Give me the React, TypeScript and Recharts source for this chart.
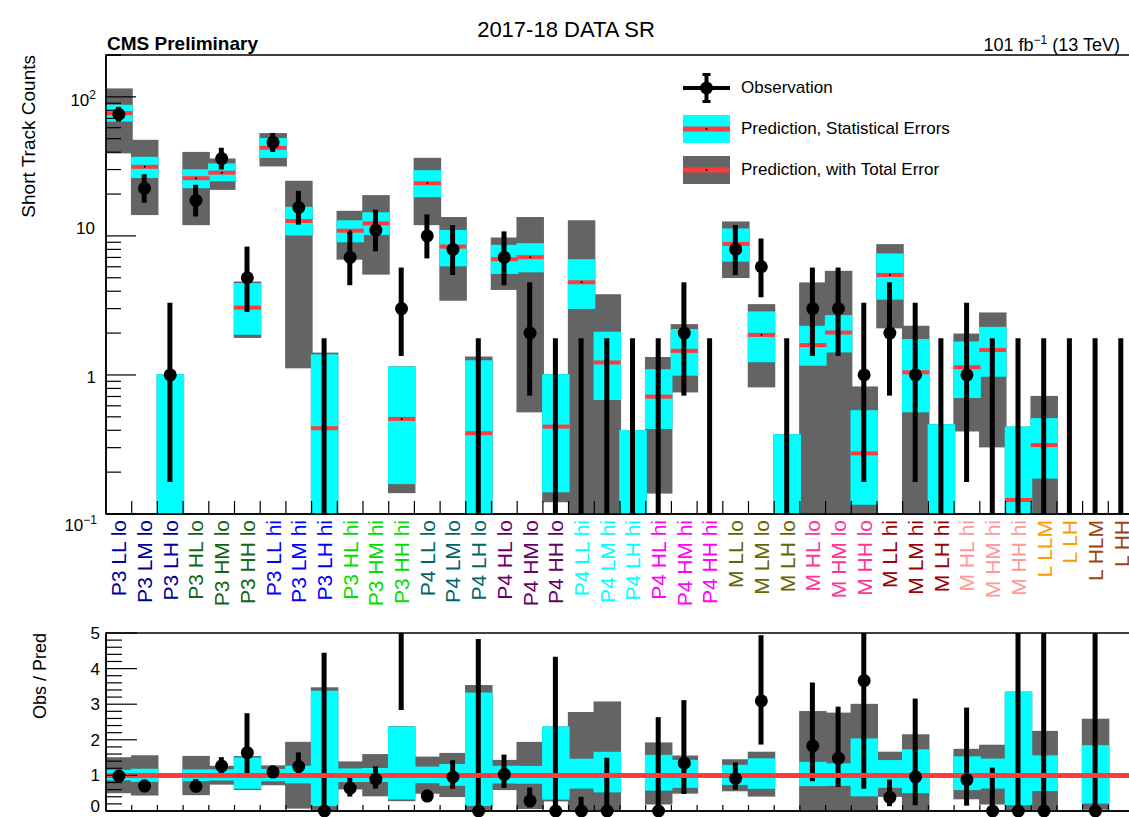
import React from "react";
import {
  ComposedChart,
  Bar,
  Line,
  XAxis,
  YAxis,
  ReferenceArea,
  ReferenceLine,
  Legend,
} from "recharts";

const FONT = '"Liberation Sans", Arial, Helvetica, sans-serif';
const CYAN = "#00ffff";
const GRAY = "#646464";
const RED = "#ff3b3b";

const regions = [
  "P3 LL lo", "P3 LM lo", "P3 LH lo", "P3 HL lo", "P3 HM lo", "P3 HH lo",
  "P3 LL hi", "P3 LM hi", "P3 LH hi", "P3 HL hi", "P3 HM hi", "P3 HH hi",
  "P4 LL lo", "P4 LM lo", "P4 LH lo", "P4 HL lo", "P4 HM lo", "P4 HH lo",
  "P4 LL hi", "P4 LM hi", "P4 LH hi", "P4 HL hi", "P4 HM hi", "P4 HH hi",
  "M LL lo", "M LM lo", "M LH lo", "M HL lo", "M HM lo", "M HH lo",
  "M LL hi", "M LM hi", "M LH hi", "M HL hi", "M HM hi", "M HH hi",
  "L LLM", "L LH", "L HLM", "L HH",
];

// observed short-track counts and their 68% Poisson intervals
const observed = [
  75, 22, 1, 18, 36, 5, 47, 16, 0, 7, 11, 3,
  10, 8, 0, 7, 2, 0, 0, 0, 0, 0, 2, 0,
  8, 6, 0, 3, 3, 1, 2, 1, 0, 1, 0, 0,
  0, 0, 0, 0,
];
const obsLow = [
  66.37, 17.34, 0.17, 13.79, 30.03, 2.84, 40.17, 12.04, 0, 4.42, 7.74, 1.37,
  6.89, 5.23, 0, 4.42, 0.71, 0, 0, 0, 0, 0, 0.71, 0,
  5.23, 3.62, 0, 1.37, 1.37, 0.17, 0.71, 0.17, 0, 0.17, 0, 0,
  0, 0, 0, 0,
];
const obsHigh = [
  84.69, 27.76, 3.3, 23.32, 43.05, 8.38, 54.9, 21.08, 1.84, 10.78, 15.42, 5.92,
  14.27, 11.96, 1.84, 10.78, 4.64, 1.84, 1.84, 1.84, 1.84, 1.84, 4.64, 1.84,
  11.96, 9.58, 1.84, 5.92, 5.92, 3.3, 4.64, 3.3, 1.84, 3.3, 1.84, 1.84,
  1.84, 1.84, 1.84, 1.84,
];

// background prediction, statistical band and total-error band
const predicted = [
  76.3, 31.4, 0, 26.0, 28.5, 3.05, 43.0, 12.8, 0.414, 10.9, 12.3, 0.483,
  23.9, 8.38, 0.381, 6.8, 7.03, 0.425, 4.64, 1.23, 0, 0.698, 1.49, 0,
  8.76, 1.94, 0, 1.64, 2.02, 0.273, 5.24, 1.045, 0, 1.136, 1.51, 0.126,
  0.313, 0, 0.035, 0,
];
const statLow = [
  67.2, 26.4, 0, 22.3, 25.0, 1.97, 36.8, 10.2, 0.066, 9.1, 10.3, 0.166,
  19.2, 6.11, 0.061, 5.39, 5.54, 0.145, 3.02, 0.669, 0, 0.414, 1.0, 0,
  6.61, 1.25, 0, 1.18, 1.47, 0.118, 3.52, 0.545, 0, 0.691, 0.983, 0.023,
  0.182, 0, 0.008, 0,
];
const statHigh = [
  86.6, 36.6, 1.0, 29.8, 32.8, 4.52, 49.9, 16.0, 1.39, 12.8, 14.6, 1.136,
  29.3, 10.9, 1.26, 8.51, 8.76, 1.0, 6.72, 2.02, 0.396, 1.086, 2.11, 0,
  11.17, 2.83, 0.37, 2.23, 2.66, 0.551, 7.38, 1.79, 0.437, 1.72, 2.19, 0.42,
  0.483, 0, 0.064, 0,
];
const totalLow = [
  39.7, 14.3, 0, 12.1, 21.7, 1.87, 32.0, 1.13, 0.02, 6.83, 5.33, 0.143,
  12.1, 3.46, 0.02, 4.14, 0.545, 0.123, 0.02, 0.03, 0, 0.142, 0.758, 0,
  5.04, 0.824, 0, 0.02, 0.02, 0.01, 2.19, 0.02, 0, 0.397, 0.305, 0.005,
  0.01, 0, 0.002, 0,
];
const totalHigh = [
  113.6, 48.5, 1.0, 39.7, 35.6, 4.64, 54.2, 24.6, 1.43, 14.96, 19.4, 1.14,
  36.0, 13.5, 1.34, 9.62, 13.5, 1.0, 12.8, 3.76, 0.396, 1.33, 2.29, 0,
  12.55, 3.19, 0.37, 4.57, 5.54, 0.816, 8.62, 2.23, 0.437, 1.96, 2.78, 0.42,
  0.698, 0, 0.09, 0,
];

// label colour for each group of three regions, then the L-track regions
const groupColors = [
  "#000099", "#116611", "#0000ff", "#00dd00", "#006666", "#660066",
  "#00ffff", "#ff00ff", "#666600", "#ff3399", "#990000", "#ff9999",
];
const longColors = ["#ff9900", "#ff9900", "#994411", "#994411"];
const labelColor = (i: number) =>
  i < 36 ? groupColors[Math.floor(i / 3)] : longColors[i - 36];

const PLOT_LEFT = 106;
const PLOT_RIGHT = 1134;
const BIN_W = (PLOT_RIGHT - PLOT_LEFT) / regions.length;
const CHART_W = 1160;

// log axis can't take zero; anything below 0.1 sits under the frame and is clipped
const LOG_FLOOR = 0.01;
const box = (lo: number, hi: number) => (hi > 0 ? [Math.max(lo, LOG_FLOOR), hi] : null);

const rows = regions.map((name, i) => ({
  name,
  total: box(totalLow[i], totalHigh[i]),
  stat: box(statLow[i], statHigh[i]),
  pred: predicted[i] > 0 ? predicted[i] : null,
  err: [Math.max(obsLow[i], LOG_FLOOR), obsHigh[i]],
  obs: observed[i] > 0 ? observed[i] : null,
}));

const ratioRows = regions.map((name, i) => {
  const p = predicted[i];
  if (!(p > 0)) return { name, total: null, stat: null, err: null, obs: null };
  const r = observed[i] / p;
  return {
    name,
    total: [totalLow[i] / p, totalHigh[i] / p],
    stat: [statLow[i] / p, statHigh[i] / p],
    err: [obsLow[i] / p, obsHigh[i] / p],
    obs: r <= 5 ? r : null,
  };
});

const logTicks: number[] = [];
[0.1, 1, 10, 100].forEach((d) => {
  for (let k = 1; k <= 9; k++) if (d * k <= 200) logTicks.push(+(d * k).toPrecision(3));
});
logTicks.push(200);
const ratioTicks = Array.from({ length: 26 }, (_, i) => i / 5);

const boxShape = (color: string) => (props: any) => {
  const { x, y, width, height } = props;
  if (![x, y, width, height].every((n) => Number.isFinite(n)) || height === 0) return <g />;
  const top = Math.min(y, y + height);
  return (
    <rect x={x} y={top} width={width} height={Math.abs(height)} fill={color} stroke={color} strokeWidth={1.5} />
  );
};

// red marker at the predicted value, across the whole bin
const PredMark = (props: any) => {
  const { x, y, width, payload } = props;
  if (!Number.isFinite(y) || payload?.pred == null) return <g />;
  return (
    <g>
      <line x1={x - 0.5} x2={x + width + 0.5} y1={y} y2={y} stroke={RED} strokeWidth={4} />
      <circle cx={x + width / 2} cy={y} r={1} fill="#000" />
    </g>
  );
};

const RegionTick = (props: any) => {
  const { x, y, index, payload } = props;
  const left = x - BIN_W / 2;
  return (
    <g>
      {index > 0 && <line x1={left} x2={left} y1={y} y2={y - 13} stroke="#000" strokeWidth={1.2} />}
      <text
        transform={`translate(${x + 7.5},${y + 6}) rotate(-90)`}
        textAnchor="end"
        fontSize={21}
        fontFamily={FONT}
        fill={labelColor(index)}
      >
        {payload.value}
      </text>
    </g>
  );
};

const BoundaryTick = (props: any) => {
  const { x, y, index } = props;
  if (index === 0) return <g />;
  const left = x - BIN_W / 2;
  return <line x1={left} x2={left} y1={y} y2={y - 6} stroke="#000" strokeWidth={1.2} />;
};

const LogTick = (props: any) => {
  const { x, y, payload } = props;
  const v = payload.value;
  const exp = Math.round(Math.log10(v));
  const major = Math.abs(Math.log10(v) - exp) < 1e-6;
  let label: React.ReactNode = null;
  if (major) {
    const common = { textAnchor: "end" as const, fontSize: 17, fontFamily: FONT, fill: "#000" };
    if (exp === 2)
      label = (
        <text x={x - 10} y={y + 9} {...common}>
          10<tspan dy={-7} fontSize={12}>2</tspan>
        </text>
      );
    else if (exp === 1)
      label = <text x={x - 11} y={y - 2} {...common}>10</text>;
    else if (exp === 0)
      label = <text x={x - 10} y={y + 8} {...common}>1</text>;
    else
      label = (
        <text x={x - 9} y={y + 17} {...common}>
          10<tspan dy={-7} fontSize={12}>−1</tspan>
        </text>
      );
  }
  return (
    <g>
      <line x1={x} x2={x + (major ? 30 : 15)} y1={y} y2={y} stroke="#000" strokeWidth={1.2} />
      {label}
    </g>
  );
};

const RatioTick = (props: any) => {
  const { x, y, payload } = props;
  const v = payload.value;
  const major = Math.abs(v - Math.round(v)) < 1e-6;
  return (
    <g>
      <line x1={x} x2={x + (major ? 31 : 16)} y1={y} y2={y} stroke="#000" strokeWidth={1.2} />
      {major && (
        <text x={x - 6} y={Math.min(y + 6, 192)} textAnchor="end" fontSize={17} fontFamily={FONT} fill="#000">
          {Math.round(v)}
        </text>
      )}
    </g>
  );
};

const LegendContent = () => {
  const row = { display: "flex", alignItems: "center", height: 30, marginBottom: 10.75 };
  const text = { marginLeft: 10, fontSize: 17, fontFamily: FONT, color: "#000", whiteSpace: "nowrap" as const };
  return (
    <div>
      <div style={row}>
        <svg width={48} height={30}>
          <line x1={0} x2={47} y1={15} y2={15} stroke="#000" strokeWidth={4} />
          <line x1={23.5} x2={23.5} y1={0} y2={30} stroke="#000" strokeWidth={4} />
          <line x1={19.5} x2={27.5} y1={1.5} y2={1.5} stroke="#000" strokeWidth={3} />
          <line x1={19.5} x2={27.5} y1={28.5} y2={28.5} stroke="#000" strokeWidth={3} />
          <circle cx={23.5} cy={15} r={6.5} fill="#000" />
        </svg>
        <span style={text}>Observation</span>
      </div>
      <div style={row}>
        <svg width={48} height={30}>
          <rect x={0} y={1} width={47} height={28} fill={CYAN} />
          <line x1={0} x2={47} y1={15} y2={15} stroke={RED} strokeWidth={5} />
          <circle cx={23.5} cy={15} r={1} fill="#000" />
        </svg>
        <span style={text}>Prediction, Statistical Errors</span>
      </div>
      <div style={row}>
        <svg width={48} height={30}>
          <rect x={0} y={1} width={47} height={28} fill={GRAY} />
          <line x1={0} x2={47} y1={15} y2={15} stroke={RED} strokeWidth={5} />
          <circle cx={23.5} cy={15} r={1} fill="#000" />
        </svg>
        <span style={text}>Prediction, with Total Error</span>
      </div>
    </div>
  );
};

const axisLine = { stroke: "#000", strokeWidth: 1.5 };

export default function App() {
  return (
    <div
      style={{
        position: "absolute",
        left: 0,
        top: 0,
        width: 1129,
        height: 817,
        overflow: "hidden",
        background: "#fff",
        fontFamily: FONT,
      }}
    >
      <div style={{ position: "absolute", left: 0, top: 0 }}>
        <ComposedChart
          width={CHART_W}
          height={620}
          data={rows}
          margin={{ top: 55, right: CHART_W - PLOT_RIGHT, bottom: 0, left: 0 }}
          barCategoryGap={0}
          barGap={0}
        >
          <XAxis
            dataKey="name"
            interval={0}
            height={106}
            tickSize={0}
            tickMargin={0}
            tickLine={false}
            axisLine={axisLine}
            tick={(p: any) => <RegionTick {...p} />}
          />
          <XAxis xAxisId="stat" dataKey="name" hide />
          <XAxis xAxisId="pred" dataKey="name" hide />
          <XAxis xAxisId="err" dataKey="name" hide />
          <YAxis
            type="number"
            scale="log"
            domain={[0.1, 200]}
            allowDataOverflow
            ticks={logTicks}
            interval={0}
            width={PLOT_LEFT}
            tickSize={0}
            tickMargin={0}
            tickLine={false}
            axisLine={axisLine}
            tick={(p: any) => <LogTick {...p} />}
          />
          <Bar dataKey="total" shape={boxShape(GRAY)} isAnimationActive={false} legendType="none" />
          <Bar xAxisId="stat" dataKey="stat" shape={boxShape(CYAN)} isAnimationActive={false} legendType="none" />
          <Bar xAxisId="pred" dataKey="pred" shape={PredMark} isAnimationActive={false} legendType="none" />
          <Bar xAxisId="err" dataKey="err" barSize={5} fill="#000" isAnimationActive={false} legendType="none" />
          <Line
            dataKey="obs"
            stroke="none"
            dot={{ r: 6.5, fill: "#000", stroke: "#000", strokeWidth: 0 }}
            activeDot={false}
            isAnimationActive={false}
            legendType="none"
          />
          <ReferenceArea
            x1={regions[0]}
            x2={regions[regions.length - 1]}
            y1={0.1}
            y2={200}
            fill="none"
            fillOpacity={0}
            stroke="#000"
            strokeWidth={1.5}
            ifOverflow="visible"
          />
          <Legend
            layout="vertical"
            align="center"
            verticalAlign="middle"
            wrapperStyle={{ top: 73, left: 683, width: 330 }}
            content={() => <LegendContent />}
          />
        </ComposedChart>
      </div>

      <div style={{ position: "absolute", left: 0, top: 620 }}>
        <ComposedChart
          width={CHART_W}
          height={197}
          data={ratioRows}
          margin={{ top: 13, right: CHART_W - PLOT_RIGHT, bottom: 0, left: 0 }}
          barCategoryGap={0}
          barGap={0}
        >
          <XAxis
            dataKey="name"
            interval={0}
            height={6}
            tickSize={0}
            tickMargin={0}
            tickLine={false}
            axisLine={axisLine}
            tick={(p: any) => <BoundaryTick {...p} />}
          />
          <XAxis xAxisId="stat" dataKey="name" hide />
          <XAxis xAxisId="err" dataKey="name" hide />
          <YAxis
            type="number"
            domain={[0, 5]}
            allowDataOverflow
            ticks={ratioTicks}
            interval={0}
            width={PLOT_LEFT}
            tickSize={0}
            tickMargin={0}
            tickLine={false}
            axisLine={axisLine}
            tick={(p: any) => <RatioTick {...p} />}
          />
          <Bar dataKey="total" shape={boxShape(GRAY)} isAnimationActive={false} />
          <Bar xAxisId="stat" dataKey="stat" shape={boxShape(CYAN)} isAnimationActive={false} />
          <ReferenceLine y={1} stroke={RED} strokeWidth={5} />
          <Bar xAxisId="err" dataKey="err" barSize={5} fill="#000" isAnimationActive={false} />
          <Line
            dataKey="obs"
            stroke="none"
            dot={{ r: 6.5, fill: "#000", stroke: "#000", strokeWidth: 0, clipDot: false }}
            activeDot={false}
            isAnimationActive={false}
          />
          <ReferenceArea
            x1={regions[0]}
            x2={regions[regions.length - 1]}
            y1={0}
            y2={5}
            fill="none"
            fillOpacity={0}
            stroke="#000"
            strokeWidth={1.5}
            ifOverflow="visible"
          />
        </ComposedChart>
      </div>

      <svg
        width={1129}
        height={817}
        style={{ position: "absolute", left: 0, top: 0, pointerEvents: "none" }}
        fontFamily={FONT}
      >
        <text x={566} y={37} textAnchor="middle" fontSize={22} fill="#000">
          2017-18 DATA SR
        </text>
        <text x={107} y={50} fontSize={19} fontWeight="bold" fill="#000">
          CMS Preliminary
        </text>
        <text x={1120} y={51} textAnchor="end" fontSize={18} fill="#000">
          101 fb<tspan dy={-7} fontSize={12}>−1</tspan>
          <tspan dy={7}> (13 TeV)</tspan>
        </text>
        <text transform="translate(35,55) rotate(-90)" textAnchor="end" fontSize={19} fill="#000">
          Short Track Counts
        </text>
        <text transform="translate(46,633) rotate(-90)" textAnchor="end" fontSize={18} fill="#000">
          Obs / Pred
        </text>
      </svg>
    </div>
  );
}
